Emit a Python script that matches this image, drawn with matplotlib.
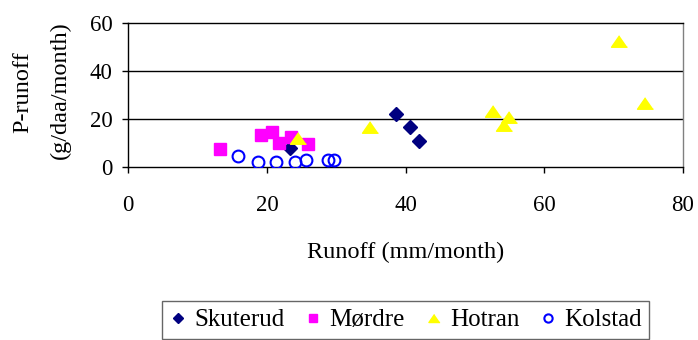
import matplotlib
matplotlib.use("Agg")
import matplotlib.pyplot as plt

# Data
sk_x = [38.7, 40.7, 41.9, 23.4]
sk_y = [21.8, 16.7, 10.8, 7.6]
mo_x = [13.2, 19.1, 20.7, 21.7, 23.5, 25.9]
mo_y = [7.5, 13.3, 14.4, 10.0, 12.2, 9.3]
ho_x = [34.9, 24.5, 52.6, 54.9, 54.2, 70.8, 74.6]
ho_y = [16.7, 11.8, 23.2, 20.6, 17.4, 52.5, 26.7]
ko_x = [15.8, 18.7, 21.3, 24.1, 25.6, 28.8, 29.7]
ko_y = [4.4, 1.8, 1.8, 1.8, 2.8, 2.8, 2.8]
x_ticks = [0, 20, 40, 60, 80]
y_ticks = [0, 20, 40, 60]

plt.rcParams['font.family'] = ['Liberation Serif', 'DejaVu Serif']
FS_TICK = 16.5
FS_LAB = 17.5
FS_LEG = 18

W, H = 698, 340
fig = plt.figure(figsize=(W / 100, H / 100), dpi=100)
l, r, t, b = 128.3, 682.7, 22.7, 166.7
ax = fig.add_axes([l / W, 1 - b / H, (r - l) / W, (b - t) / H])

tri = [(0, 0.72), (-1, -0.72), (1, -0.72)]
ax.plot(sk_x, sk_y, ls='none', marker='D', ms=7.5, color='#000080', label='Skuterud', zorder=3)
ax.plot(mo_x, mo_y, ls='none', marker='s', ms=8.6, color='#FF00FF', label='Mørdre', zorder=3)
ax.plot(ho_x, ho_y, ls='none', marker=tri, ms=11.5, color='#FFFF00', label='Hotran', zorder=4)
ax.plot(ko_x, ko_y, ls='none', marker='o', ms=8.5, mfc='none', mec='#0000FF', mew=1.5,
        label='Kolstad', zorder=3)

ax.set_xlim(0, 80)
ax.set_ylim(0, 60)
ax.set_xticks(x_ticks)
ax.set_yticks(y_ticks)
ax.tick_params(labelsize=FS_TICK, direction='out', length=4.5, width=1, colors='black')
ax.tick_params(axis='x', pad=16)
ax.tick_params(axis='y', pad=7)
for y in [20, 40]:
    ax.axhline(y, color='black', lw=1, zorder=1)
ax.spines['right'].set_color('#808080')
for s in ['left', 'bottom', 'top']:
    ax.spines[s].set_color('black')
for s in ax.spines.values():
    s.set_linewidth(1)

fig.text(23 / W, 1 - 92 / H, 'P-runoff', rotation=90, ha='center', va='center', fontsize=FS_LAB)
fig.text(60 / W, 1 - 90 / H, '(g/daa/month)', rotation=90, ha='center', va='center', fontsize=FS_LAB)
fig.text(405.5 / W, 1 - 252 / H, 'Runoff (mm/month)', ha='center', va='center', fontsize=FS_LAB)

leg = fig.legend(loc='center', bbox_to_anchor=(405.5 / W, 1 - 320 / H), ncol=4, fontsize=FS_LEG,
                 frameon=True, fancybox=False, edgecolor='#404040', handlelength=0.7,
                 handletextpad=0.3, columnspacing=0.8, borderpad=0.3, markerscale=0.7)
leg.get_frame().set_linewidth(1)

fig.savefig('out.png', dpi=100)
